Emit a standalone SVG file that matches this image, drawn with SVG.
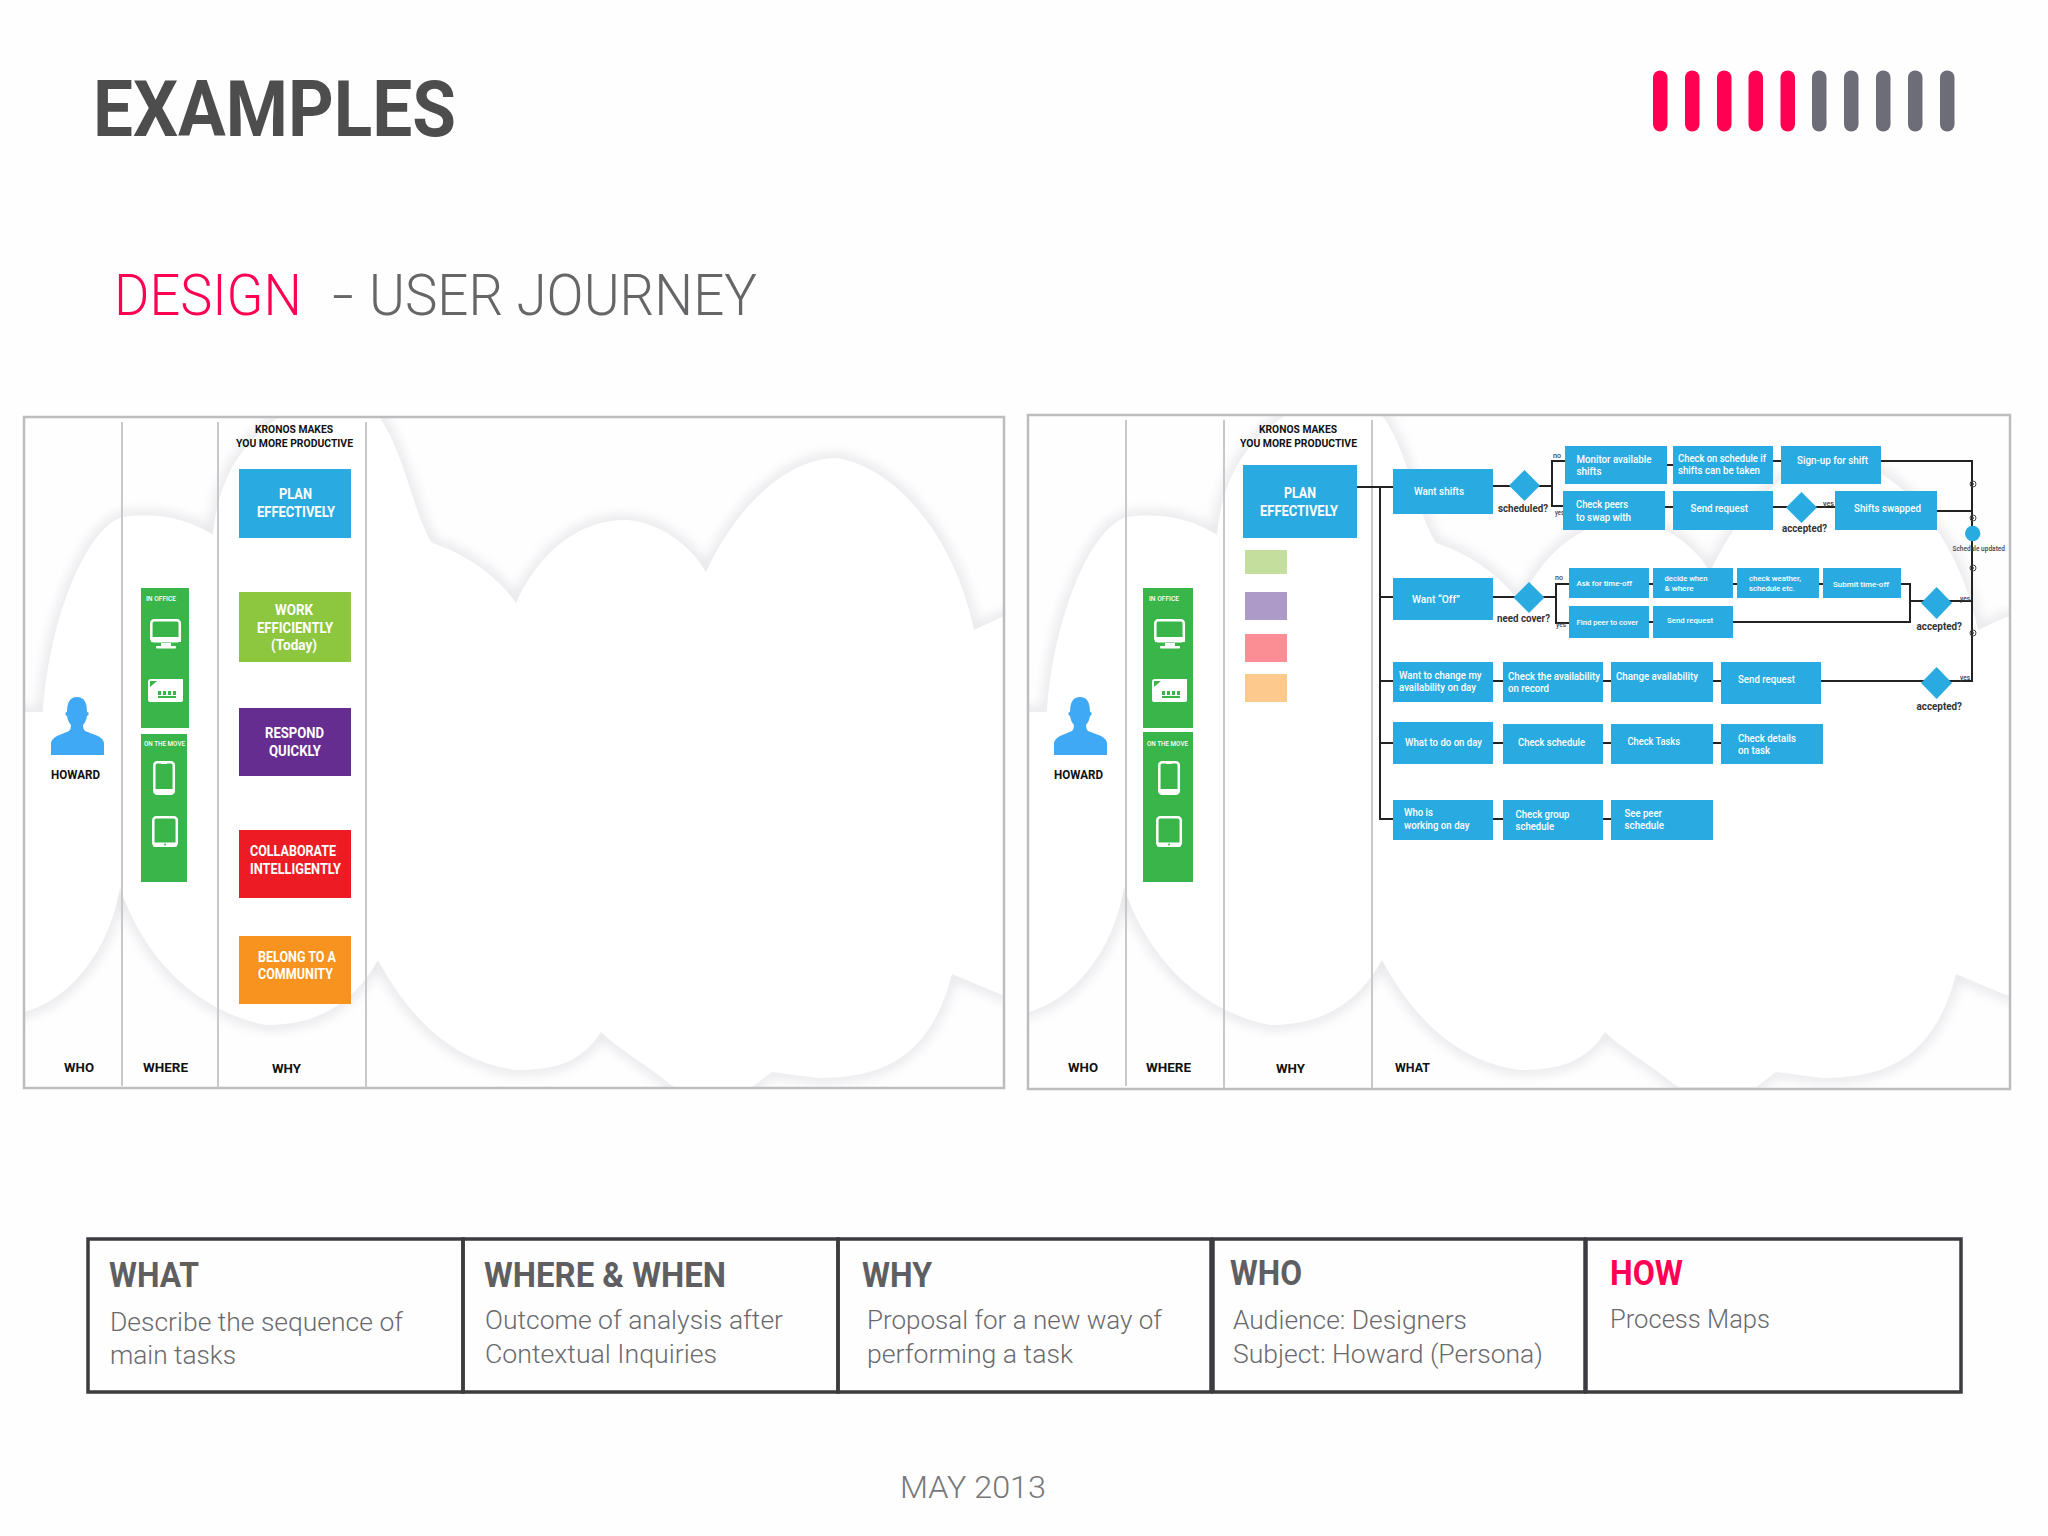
<svg xmlns="http://www.w3.org/2000/svg" xmlns:xlink="http://www.w3.org/1999/xlink" width="2048" height="1536" viewBox="0 0 2048 1536">
<style>
text{font-family:"Roboto","Liberation Sans",sans-serif}
.w{fill:#fff;font-weight:500;font-size:10px;transform:translateY(.8px)}
.ws{fill:#fff;font-weight:500;font-size:8px;transform:translateY(.8px)}
.big{fill:#fff;font-weight:700;font-size:15.5px;transform:translateY(.8px)}
.tiny{fill:#fff;font-weight:500;font-size:7px}
.k{fill:#111;font-weight:700;font-size:11px}
.lab{fill:#111;font-weight:700;font-size:13.5px}
.q{fill:#333;font-weight:700;font-size:10px;transform:translateY(.8px)}
.yn{fill:#444;font-weight:500;font-size:7px}
.hd{fill:#5f5f62;font-weight:700;font-size:35px}
.bd{fill:#6a6a6e;font-weight:300;font-size:25px}
.b{fill:#29abe2}
.frame{fill:none;stroke:#bdbdc0;stroke-width:2.5}
.div{stroke:#c8c8cb;stroke-width:2;fill:none}
.wire{stroke:#222;stroke-width:2;fill:none}
.mk{fill:none;stroke:#444;stroke-width:1}
.cell{fill:none;stroke:#3c3c40;stroke-width:3.5}
.ic{fill:none;stroke:#fff;stroke-width:2.5}
</style>
<defs>
<filter id="soft" x="-10%" y="-10%" width="120%" height="120%"><feGaussianBlur stdDeviation="6"/></filter>
<clipPath id="cp1"><rect x="25" y="418" width="978" height="669"/></clipPath>
<clipPath id="cp2"><rect x="1029" y="416" width="980" height="672"/></clipPath>
<path id="cloudShape" d="M0 712 L43 712 C50 610 90 525 123 517 C160 512 190 520 213 535 C218 480 240 440 290 410 L360 400 C400 420 410 510 432 543 C470 555 500 580 516 603 C540 550 580 520 626 520 C660 522 690 545 706 572 C740 500 790 458 838 458 C900 470 955 540 974 630 L1002 617 L1010 617 L1010 995 L1002 995 L952 974 C930 1060 880 1078 818 1078 L772 1072 L752 1087 L674 1087 C640 1060 620 1050 601 1032 C580 1065 550 1070 516 1070 C440 1060 400 1000 378 960 C350 1010 310 1025 266 1025 C190 1010 140 950 120 887 C110 950 70 1000 24 1012 L0 1012 Z"/>
<g id="cloud">
<use xlink:href="#cloudShape" href="#cloudShape" fill="none" stroke="#e4e4e8" stroke-width="9" filter="url(#soft)"/>
<use xlink:href="#cloudShape" href="#cloudShape" fill="#ffffff"/>
</g>
<path id="person" fill="#3fa9f5" d="M0 58V47Q0 42 6 39L18 34Q20 32 20 28Q17 25 16 19L14.5 18V15.5L16 15Q16 0 26 0Q36 0 36 15L37.5 15.5V18L36 19Q35 25 32 28Q32 32 34 34L47 39Q53 42 53 47V58Z"/>
<g id="monitor"><rect class="ic" x="1.3" y="1.3" width="28.5" height="21" rx="3"/><rect x="1" y="18" width="30" height="5" fill="#fff"/><rect x="11" y="24" width="10" height="3" fill="#fff"/><rect x="6" y="27" width="20" height="2.5" rx="1" fill="#fff"/></g>
<g id="calendar"><path fill="#fff" d="M3 0H35V21Q35 23 33 23H2Q0 23 0 21V3Q0 0 3 0Z"/><path fill="#39b54a" d="M2 2H9L2 8Z"/><g fill="#39b54a"><rect x="10" y="12" width="3" height="4"/><rect x="15" y="12" width="3" height="4"/><rect x="20" y="12" width="3" height="4"/><rect x="25" y="12" width="3" height="4"/><rect x="10" y="17" width="18" height="2"/></g></g>
<g id="phone"><rect class="ic" x="1.3" y="1.3" width="19.5" height="31.5" rx="3"/><rect x="1" y="28" width="20" height="4" fill="#fff"/><rect x="8" y="2" width="6" height="1" fill="#fff"/></g>
<g id="tablet"><rect class="ic" x="1.3" y="1.3" width="23.5" height="28.5" rx="3"/><rect x="1" y="26.5" width="24" height="4" fill="#fff"/><circle cx="13" cy="28.5" r="1" fill="#39b54a"/></g>
</defs>
<rect width="2048" height="1536" fill="#fefefe"/>

<g id="title">
<text x="93" y="136" font-size="77" font-weight="700" fill="#4d4d4d" textLength="363" lengthAdjust="spacingAndGlyphs">EXAMPLES</text>
<text x="114" y="315" font-size="57" font-weight="300" fill="#ff0052" textLength="188" lengthAdjust="spacingAndGlyphs">DESIGN</text>
<text x="332" y="315" font-size="57" font-weight="300" fill="#666669" textLength="22" lengthAdjust="spacingAndGlyphs">-</text>
<text x="369" y="315" font-size="57" font-weight="300" fill="#666669" textLength="388" lengthAdjust="spacingAndGlyphs">USER JOURNEY</text>
</g>
<g id="logo">
<g fill="#ff0052"><rect x="1653" y="70.5" width="14.5" height="61" rx="7.2"/><rect x="1685" y="70.5" width="14.5" height="61" rx="7.2"/><rect x="1717" y="70.5" width="14.5" height="61" rx="7.2"/><rect x="1748.500" y="70.5" width="14.5" height="61" rx="7.2"/><rect x="1780.500" y="70.5" width="14.5" height="61" rx="7.2"/></g>
<g fill="#6d6d78"><rect x="1812" y="70.5" width="14.5" height="61" rx="7.2"/><rect x="1844" y="70.5" width="14.5" height="61" rx="7.2"/><rect x="1876" y="70.5" width="14.5" height="61" rx="7.2"/><rect x="1908" y="70.5" width="14.5" height="61" rx="7.2"/><rect x="1940" y="70.5" width="14.5" height="61" rx="7.2"/></g>
</g>

<!-- left panel -->
<g id="panel-left">
<g clip-path="url(#cp1)"><use xlink:href="#cloud" href="#cloud"/></g>
<rect class="frame" x="24" y="417" width="980" height="671"/>
<path class="div" d="M122 422V1086M218 422V1088M366 422V1088"/>
<text class="k" x="255" y="433" textLength="78" lengthAdjust="spacingAndGlyphs">KRONOS MAKES</text>
<text class="k" x="236" y="447" textLength="117" lengthAdjust="spacingAndGlyphs">YOU MORE PRODUCTIVE</text>
<text class="lab" x="64" y="1072" textLength="30" lengthAdjust="spacingAndGlyphs">WHO</text>
<text class="lab" x="143" y="1072" textLength="45" lengthAdjust="spacingAndGlyphs">WHERE</text>
<text class="lab" x="272" y="1073" textLength="29" lengthAdjust="spacingAndGlyphs">WHY</text>
</g>
<g id="howard-left"><use xlink:href="#person" href="#person" x="51" y="697"/><text class="lab" x="51" y="779" textLength="49" lengthAdjust="spacingAndGlyphs">HOWARD</text></g>
<g id="in-office-left"><rect x="141" y="588" width="48" height="140" fill="#39b54a"/><text class="tiny" x="146" y="601" textLength="30" lengthAdjust="spacingAndGlyphs">IN OFFICE</text><use xlink:href="#monitor" href="#monitor" x="150" y="619"/><use xlink:href="#calendar" href="#calendar" x="148" y="679"/></g>
<g id="on-move-left"><rect x="141" y="734" width="46" height="148" fill="#39b54a"/><text class="tiny" x="144" y="746" textLength="41" lengthAdjust="spacingAndGlyphs">ON THE MOVE</text><use xlink:href="#phone" href="#phone" x="153" y="761"/><use xlink:href="#tablet" href="#tablet" x="152" y="816"/></g>
<g id="why-plan-left"><rect class="b" x="239" y="469" width="112" height="69"/><text class="big" x="279" y="498" textLength="33" lengthAdjust="spacingAndGlyphs">PLAN</text><text class="big" x="257" y="516" textLength="78" lengthAdjust="spacingAndGlyphs">EFFECTIVELY</text></g>
<g id="why-work"><rect x="239" y="592" width="112" height="70" fill="#8dc63f"/><text class="big" x="275" y="614" textLength="38" lengthAdjust="spacingAndGlyphs">WORK</text><text class="big" x="257" y="632" textLength="76" lengthAdjust="spacingAndGlyphs">EFFICIENTLY</text><text class="big" x="271" y="649" textLength="46" lengthAdjust="spacingAndGlyphs" font-weight="500">(Today)</text></g>
<g id="why-respond"><rect x="239" y="708" width="112" height="68" fill="#662d91"/><text class="big" x="265" y="737" textLength="59" lengthAdjust="spacingAndGlyphs">RESPOND</text><text class="big" x="269" y="755" textLength="52" lengthAdjust="spacingAndGlyphs">QUICKLY</text></g>
<g id="why-collaborate"><rect x="239" y="830" width="112" height="68" fill="#ed1c24"/><text class="big" x="250" y="855" textLength="86" lengthAdjust="spacingAndGlyphs">COLLABORATE</text><text class="big" x="250" y="873" textLength="91" lengthAdjust="spacingAndGlyphs">INTELLIGENTLY</text></g>
<g id="why-belong"><rect x="239" y="936" width="112" height="68" fill="#f7931e"/><text class="big" x="258" y="961" textLength="78" lengthAdjust="spacingAndGlyphs">BELONG TO A</text><text class="big" x="258" y="978" textLength="75" lengthAdjust="spacingAndGlyphs">COMMUNITY</text></g>

<!-- right panel -->
<g id="panel-right">
<g clip-path="url(#cp2)"><use xlink:href="#cloud" href="#cloud" x="1004"/></g>
<rect class="frame" x="1028" y="415" width="982" height="674"/>
<path class="div" d="M1126 420V1086M1224 420V1088M1372 420V1088"/>
<text class="k" x="1259" y="433" textLength="78" lengthAdjust="spacingAndGlyphs">KRONOS MAKES</text>
<text class="k" x="1240" y="447" textLength="117" lengthAdjust="spacingAndGlyphs">YOU MORE PRODUCTIVE</text>
<text class="lab" x="1068" y="1072" textLength="30" lengthAdjust="spacingAndGlyphs">WHO</text>
<text class="lab" x="1146" y="1072" textLength="45" lengthAdjust="spacingAndGlyphs">WHERE</text>
<text class="lab" x="1276" y="1073" textLength="29" lengthAdjust="spacingAndGlyphs">WHY</text>
<text class="lab" x="1395" y="1072" textLength="35" lengthAdjust="spacingAndGlyphs">WHAT</text>
</g>
<g id="howard-right"><use xlink:href="#person" href="#person" x="1054" y="697"/><text class="lab" x="1054" y="779" textLength="49" lengthAdjust="spacingAndGlyphs">HOWARD</text></g>
<g id="in-office-right"><rect x="1143" y="588" width="50" height="140" fill="#39b54a"/><text class="tiny" x="1149" y="601" textLength="30" lengthAdjust="spacingAndGlyphs">IN OFFICE</text><use xlink:href="#monitor" href="#monitor" x="1154" y="619"/><use xlink:href="#calendar" href="#calendar" x="1152" y="679"/></g>
<g id="on-move-right"><rect x="1143" y="732" width="50" height="150" fill="#39b54a"/><text class="tiny" x="1147" y="746" textLength="41" lengthAdjust="spacingAndGlyphs">ON THE MOVE</text><use xlink:href="#phone" href="#phone" x="1158" y="761"/><use xlink:href="#tablet" href="#tablet" x="1156" y="816"/></g>
<g id="why-plan-right"><rect class="b" x="1243" y="465" width="114" height="73"/><text class="big" x="1284" y="497" textLength="32" lengthAdjust="spacingAndGlyphs">PLAN</text><text class="big" x="1260" y="515" textLength="78" lengthAdjust="spacingAndGlyphs">EFFECTIVELY</text></g>
<g id="swatches"><rect x="1245" y="550" width="42" height="24" fill="#c3de9d"/><rect x="1245" y="592" width="42" height="28" fill="#ae9ac8"/><rect x="1245" y="634" width="42" height="28" fill="#fb8d95"/><rect x="1245" y="674" width="42" height="28" fill="#fdc98d"/></g>

<g id="connectors">
<path class="wire" d="M1357 487H1393M1380 487V819H1393M1380 597H1393M1380 681H1393M1380 743H1393"/>
<path class="wire" d="M1493 486H1552M1565 461H1552V506H1563M1667 465H1673M1773 461H1781M1881 461H1972V681H1821M1665 507H1673M1773 507H1835M1937 511H1972"/>
<path class="wire" d="M1493 597H1556M1569 584H1556V623H1569M1649 584H1653M1733 584H1737M1819 584H1823M1901 584H1910V622H1733M1649 622H1653M1910 601H1972"/>
<path class="wire" d="M1493 681H1503M1603 681H1611M1713 681H1721"/>
<path class="wire" d="M1493 743H1503M1603 743H1611M1713 743H1721M1493 819H1503M1603 819H1611"/>
<g class="mk"><circle cx="1973" cy="484" r="3"/><circle cx="1973" cy="518" r="3"/><circle cx="1973" cy="568" r="3"/><circle cx="1973" cy="633" r="3"/></g>
<g fill="#444"><circle cx="1973" cy="484" r="1"/><circle cx="1973" cy="518" r="1"/><circle cx="1973" cy="568" r="1"/><circle cx="1973" cy="633" r="1"/></g>
</g>

<g id="n-want-shifts"><rect class="b" x="1393" y="469" width="100" height="45"/><text class="w" x="1414" y="494" textLength="50" lengthAdjust="spacingAndGlyphs">Want shifts</text></g>
<g id="d-scheduled"><polygon class="b" points="1524.500,470 1540,485.500 1524.500,501 1509,485.500"/><text class="q" x="1498" y="511" textLength="50" lengthAdjust="spacingAndGlyphs">scheduled?</text></g>
<g id="lab-1"><text class="yn" x="1553" y="458" textLength="8" lengthAdjust="spacingAndGlyphs">no</text><text class="yn" x="1555" y="515" textLength="9" lengthAdjust="spacingAndGlyphs">yes</text></g>
<g id="n-monitor"><rect class="b" x="1565" y="446" width="102" height="38"/><text class="w" x="1576.500" y="462" textLength="75" lengthAdjust="spacingAndGlyphs">Monitor available</text><text class="w" x="1576.500" y="474" textLength="25" lengthAdjust="spacingAndGlyphs">shifts</text></g>
<g id="n-check-on"><rect class="b" x="1673" y="446" width="100" height="38"/><text class="w" x="1678" y="461" textLength="88" lengthAdjust="spacingAndGlyphs">Check on schedule if</text><text class="w" x="1678" y="473" textLength="82" lengthAdjust="spacingAndGlyphs">shifts can be taken</text></g>
<g id="n-signup"><rect class="b" x="1781" y="446" width="100" height="38"/><text class="w" x="1797" y="463" textLength="71" lengthAdjust="spacingAndGlyphs">Sign-up for shift</text></g>
<g id="n-check-peers"><rect class="b" x="1563" y="491" width="102" height="39"/><text class="w" x="1576" y="507" textLength="52" lengthAdjust="spacingAndGlyphs">Check peers</text><text class="w" x="1576" y="520" textLength="55" lengthAdjust="spacingAndGlyphs">to swap with</text></g>
<g id="n-send-1"><rect class="b" x="1673" y="491" width="100" height="39"/><text class="w" x="1690.500" y="511" textLength="57.500" lengthAdjust="spacingAndGlyphs">Send request</text></g>
<g id="d-accepted-1"><polygon class="b" points="1801.500,492 1817,507.500 1801.500,523 1786,507.500"/><text class="q" x="1782" y="531" textLength="45" lengthAdjust="spacingAndGlyphs">accepted?</text><text class="yn" x="1823" y="506" textLength="11" lengthAdjust="spacingAndGlyphs">yes</text></g>
<g id="n-shifts-swapped"><rect class="b" x="1835" y="491" width="102" height="39"/><text class="w" x="1854" y="511" textLength="67" lengthAdjust="spacingAndGlyphs">Shifts swapped</text></g>
<g id="n-schedule-updated"><circle class="b" cx="1972.700" cy="533.500" r="7.700"/><text class="yn" x="1952.500" y="551" font-size="7" textLength="52.500" lengthAdjust="spacingAndGlyphs">Schedule updated</text></g>

<g id="n-want-off"><rect class="b" x="1393" y="578" width="100" height="42"/><text class="w" x="1412" y="602" textLength="48" lengthAdjust="spacingAndGlyphs">Want “Off”</text></g>
<g id="d-need-cover"><polygon class="b" points="1529,582 1544.500,597.500 1529,613 1513.500,597.500"/><text class="q" x="1497" y="621" textLength="53" lengthAdjust="spacingAndGlyphs">need cover?</text></g>
<g id="lab-2"><text class="yn" x="1555" y="580" textLength="8" lengthAdjust="spacingAndGlyphs">no</text><text class="yn" x="1556" y="627" textLength="10" lengthAdjust="spacingAndGlyphs">yes</text></g>
<g id="n-ask"><rect class="b" x="1569" y="568" width="80" height="30"/><text class="ws" x="1576.500" y="585" textLength="55.500" lengthAdjust="spacingAndGlyphs">Ask for time-off</text></g>
<g id="n-decide"><rect class="b" x="1653" y="568" width="80" height="30"/><text class="ws" x="1664.500" y="580" textLength="43" lengthAdjust="spacingAndGlyphs">decide when</text><text class="ws" x="1664.500" y="590" textLength="29" lengthAdjust="spacingAndGlyphs">&amp; where</text></g>
<g id="n-weather"><rect class="b" x="1737" y="568" width="82" height="30"/><text class="ws" x="1749" y="580" textLength="52" lengthAdjust="spacingAndGlyphs">check weather,</text><text class="ws" x="1749" y="590" textLength="46" lengthAdjust="spacingAndGlyphs">schedule etc.</text></g>
<g id="n-submit"><rect class="b" x="1823" y="568" width="78" height="30"/><text class="ws" x="1833" y="586" textLength="56" lengthAdjust="spacingAndGlyphs">Submit time-off</text></g>
<g id="n-find"><rect class="b" x="1569" y="606" width="80" height="32"/><text class="ws" x="1576.500" y="624" textLength="61.500" lengthAdjust="spacingAndGlyphs">Find peer to cover</text></g>
<g id="n-send-2"><rect class="b" x="1653" y="606" width="80" height="32"/><text class="ws" x="1667" y="622" textLength="46" lengthAdjust="spacingAndGlyphs">Send request</text></g>
<g id="d-accepted-2"><polygon class="b" points="1936.600,587 1952,603 1936.600,619 1921,603"/><text class="q" x="1916.500" y="629" textLength="45.500" lengthAdjust="spacingAndGlyphs">accepted?</text><text class="yn" x="1960" y="601" textLength="10" lengthAdjust="spacingAndGlyphs">yes</text></g>

<g id="n-want-change"><rect class="b" x="1393" y="662" width="100" height="40"/><text class="w" x="1399" y="678" textLength="82.500" lengthAdjust="spacingAndGlyphs">Want to change my</text><text class="w" x="1399" y="690" textLength="77" lengthAdjust="spacingAndGlyphs">availability on day</text></g>
<g id="n-check-avail"><rect class="b" x="1503" y="662" width="100" height="40"/><text class="w" x="1508" y="679" textLength="92" lengthAdjust="spacingAndGlyphs">Check the availability</text><text class="w" x="1508" y="691" textLength="41" lengthAdjust="spacingAndGlyphs">on record</text></g>
<g id="n-change-avail"><rect class="b" x="1611" y="662" width="102" height="40"/><text class="w" x="1616" y="679" textLength="82" lengthAdjust="spacingAndGlyphs">Change availability</text></g>
<g id="n-send-3"><rect class="b" x="1721" y="662" width="100" height="42"/><text class="w" x="1738" y="682" textLength="57" lengthAdjust="spacingAndGlyphs">Send request</text></g>
<g id="d-accepted-3"><polygon class="b" points="1936.600,667 1952,683 1936.600,699 1921,683"/><text class="q" x="1916.500" y="709" textLength="45.500" lengthAdjust="spacingAndGlyphs">accepted?</text><text class="yn" x="1960" y="680" textLength="10" lengthAdjust="spacingAndGlyphs">yes</text></g>

<g id="n-what-to-do"><rect class="b" x="1393" y="722" width="100" height="42"/><text class="w" x="1405" y="745" textLength="77" lengthAdjust="spacingAndGlyphs">What to do on day</text></g>
<g id="n-check-schedule"><rect class="b" x="1503" y="724" width="100" height="40"/><text class="w" x="1518" y="745" textLength="67" lengthAdjust="spacingAndGlyphs">Check schedule</text></g>
<g id="n-check-tasks"><rect class="b" x="1611" y="724" width="102" height="40"/><text class="w" x="1627.500" y="744" textLength="52.500" lengthAdjust="spacingAndGlyphs">Check Tasks</text></g>
<g id="n-check-details"><rect class="b" x="1721" y="724" width="102" height="40"/><text class="w" x="1738" y="741" textLength="58" lengthAdjust="spacingAndGlyphs">Check details</text><text class="w" x="1738" y="753" textLength="32" lengthAdjust="spacingAndGlyphs">on task</text></g>

<g id="n-who-is"><rect class="b" x="1393" y="800" width="100" height="40"/><text class="w" x="1404" y="815" textLength="29" lengthAdjust="spacingAndGlyphs">Who is</text><text class="w" x="1404" y="828" textLength="65.500" lengthAdjust="spacingAndGlyphs">working on day</text></g>
<g id="n-check-group"><rect class="b" x="1503" y="800" width="100" height="40"/><text class="w" x="1515.500" y="817" textLength="54" lengthAdjust="spacingAndGlyphs">Check group</text><text class="w" x="1515.500" y="829" textLength="38.500" lengthAdjust="spacingAndGlyphs">schedule</text></g>
<g id="n-see-peer"><rect class="b" x="1611" y="800" width="102" height="40"/><text class="w" x="1624.500" y="816" textLength="37.500" lengthAdjust="spacingAndGlyphs">See peer</text><text class="w" x="1624.500" y="828" textLength="39.500" lengthAdjust="spacingAndGlyphs">schedule</text></g>

<!-- bottom table -->
<g id="cell-what"><rect class="cell" x="88" y="1239" width="375" height="153"/><text class="hd" x="109" y="1287" textLength="90" lengthAdjust="spacingAndGlyphs">WHAT</text><text class="bd" x="110" y="1331" textLength="293" lengthAdjust="spacingAndGlyphs">Describe the sequence of</text><text class="bd" x="110" y="1364" textLength="126" lengthAdjust="spacingAndGlyphs">main tasks</text></g>
<g id="cell-where"><rect class="cell" x="463" y="1239" width="375" height="153"/><text class="hd" x="484" y="1287" textLength="242" lengthAdjust="spacingAndGlyphs">WHERE &amp; WHEN</text><text class="bd" x="485" y="1329" textLength="298" lengthAdjust="spacingAndGlyphs">Outcome of analysis after</text><text class="bd" x="485" y="1363" textLength="232" lengthAdjust="spacingAndGlyphs">Contextual Inquiries</text></g>
<g id="cell-why"><rect class="cell" x="838" y="1239" width="373" height="153"/><text class="hd" x="862" y="1287" textLength="70" lengthAdjust="spacingAndGlyphs">WHY</text><text class="bd" x="867" y="1329" textLength="295" lengthAdjust="spacingAndGlyphs">Proposal for a new way of</text><text class="bd" x="867" y="1363" textLength="206" lengthAdjust="spacingAndGlyphs">performing a task</text></g>
<g id="cell-who"><rect class="cell" x="1213" y="1239" width="372" height="153"/><text class="hd" x="1230" y="1285" textLength="72" lengthAdjust="spacingAndGlyphs">WHO</text><text class="bd" x="1233" y="1329" textLength="234" lengthAdjust="spacingAndGlyphs">Audience: Designers</text><text class="bd" x="1233" y="1363" textLength="310" lengthAdjust="spacingAndGlyphs">Subject: Howard (Persona)</text></g>
<g id="cell-how"><rect class="cell" x="1586" y="1239" width="375" height="153"/><text class="hd" x="1610" y="1285" style="fill:#ff0052" textLength="73" lengthAdjust="spacingAndGlyphs">HOW</text><text class="bd" x="1610" y="1328" textLength="160" lengthAdjust="spacingAndGlyphs">Process Maps</text></g>
<text id="date" x="900" y="1498" font-size="32" font-weight="300" fill="#77777a" textLength="146" lengthAdjust="spacingAndGlyphs">MAY 2013</text>
</svg>
